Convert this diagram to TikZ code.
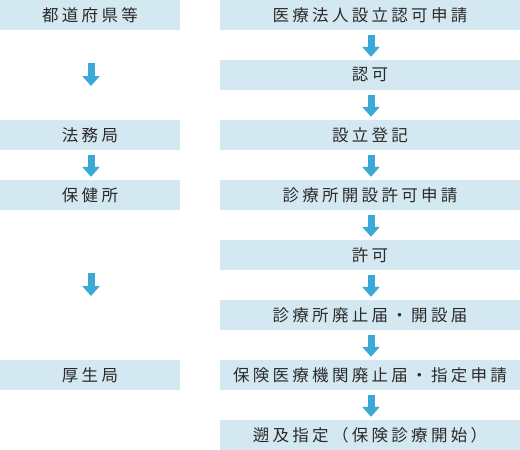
\documentclass[tikz,border=0pt]{standalone}
\usepackage{fontspec}
\newfontfamily\jpfont[LetterSpace=20]{Noto Sans CJK JP}
\usetikzlibrary{arrows.meta}
\definecolor{boxfill}{HTML}{D4E8F1}
\definecolor{arrowcol}{HTML}{3BA9D5}
\definecolor{txtcol}{HTML}{2A2A2A}
\tikzset{
  box/.style={rectangle, fill=boxfill, inner sep=0pt, minimum height=30pt,
    text=txtcol, font=\jpfont\fontsize{16.5pt}{18pt}\selectfont},
  lbox/.style={box, minimum width=180pt},
  rbox/.style={box, minimum width=300pt},
  flow/.style={draw=arrowcol, line width=7pt,
    -{Triangle[width=17pt,length=10pt]}, shorten <=5pt, shorten >=3pt},
  freeflow/.style={draw=arrowcol, line width=7pt,
    -{Triangle[width=17pt,length=10pt]}}
}
\begin{document}
\begin{tikzpicture}[x=1pt,y=-1pt]
\useasboundingbox (0,0) rectangle (520,450);
% right column
\node[rbox] (r1) at (370,15) {医療法人設立認可申請};
\node[rbox] (r2) at (370,75) {認可};
\node[rbox] (r3) at (370,135) {設立登記};
\node[rbox] (r4) at (370,195) {診療所開設許可申請};
\node[rbox] (r5) at (370,255) {許可};
\node[rbox] (r6) at (370,315) {診療所廃止届・開設届};
\node[rbox] (r7) at (370,375) {保険医療機関廃止届・指定申請};
\node[rbox] (r8) at (370,435) {遡及指定（保険診療開始）};
\foreach \a/\b in {r1/r2,r2/r3,r3/r4,r4/r5,r5/r6,r6/r7,r7/r8}
  \draw[flow] ([xshift=1pt]\a.south) -- ([xshift=1pt]\b.north);
% left column
\node[lbox] (l1) at (90,15) {都道府県等};
\node[lbox] (l2) at (90,135) {法務局};
\node[lbox] (l3) at (90,195) {保健所};
\node[lbox] (l4) at (90,375) {厚生局};
\draw[flow] ([xshift=1pt]l2.south) -- ([xshift=1pt]l3.north);
\coordinate (a1s) at (91,63);
\coordinate (a1e) at (91,86);
\coordinate (a2s) at (91,273);
\coordinate (a2e) at (91,296);
\draw[freeflow] (a1s) -- (a1e);
\draw[freeflow] (a2s) -- (a2e);
\end{tikzpicture}
\end{document}
